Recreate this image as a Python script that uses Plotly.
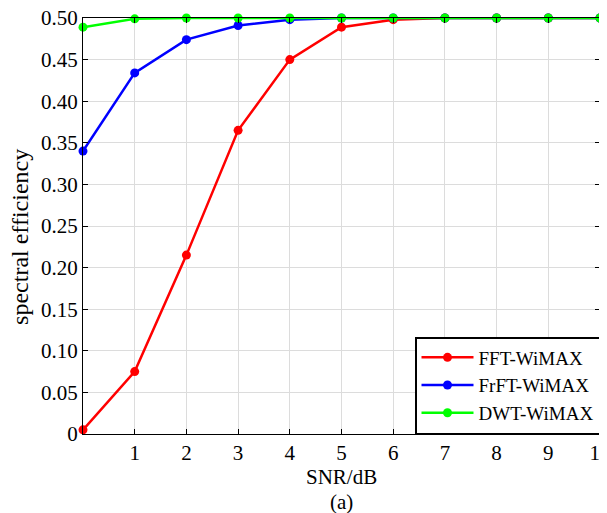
import plotly.graph_objects as go

snr = [0, 1, 2, 3, 4, 5, 6, 7, 8, 9, 10]
fft_wimax = [0.005, 0.075, 0.215, 0.365, 0.450, 0.489, 0.498, 0.500, 0.500, 0.500, 0.500]
frft_wimax = [0.340, 0.434, 0.474, 0.491, 0.498, 0.500, 0.500, 0.500, 0.500, 0.500, 0.500]
dwt_wimax = [0.489, 0.499, 0.500, 0.500, 0.500, 0.500, 0.500, 0.500, 0.500, 0.500, 0.500]

x_ticks = [1, 2, 3, 4, 5, 6, 7, 8, 9, 10]
y_ticks = [0, 0.05, 0.10, 0.15, 0.20, 0.25, 0.30, 0.35, 0.40, 0.45, 0.50]
y_tick_labels = ["0", "0.05", "0.10", "0.15", "0.20", "0.25", "0.30", "0.35", "0.40", "0.45", "0.50"]

font = "Liberation Serif"
fs = 21

fig = go.Figure()
for name, vals, col in [("FFT-WiMAX", fft_wimax, "#ff0000"),
                        ("FrFT-WiMAX", frft_wimax, "#0000ff"),
                        ("DWT-WiMAX", dwt_wimax, "#00ff00")]:
    fig.add_trace(go.Scatter(x=snr, y=vals, name=name, mode="lines+markers",
                             line=dict(color=col, width=2.5),
                             marker=dict(color=col, size=9, symbol="circle"),
                             cliponaxis=False))

axis_common = dict(showline=True, linecolor="black", linewidth=1, mirror="ticks",
                   ticks="inside", ticklen=5, tickcolor="black",
                   showgrid=True, gridcolor="#dcdcdc", gridwidth=1, zeroline=False,
                   automargin=False, ticklabeloverflow="allow",
                   tickfont=dict(family=font, size=fs, color="black"))

fig.update_layout(
    width=599, height=505,
    margin=dict(l=75, r=7, t=10, b=79),
    paper_bgcolor="white", plot_bgcolor="white",
    font=dict(family=font, color="black"),
    showlegend=True,
    legend=dict(x=1, y=0, xanchor="right", yanchor="bottom",
                bordercolor="black", borderwidth=1.5, bgcolor="white",
                font=dict(family=font, size=19, color="black"),
                tracegroupgap=0, itemwidth=52),
    xaxis=dict(range=[0, 10], tickvals=x_ticks, ticklabelstandoff=0, **axis_common),
    yaxis=dict(range=[0, 0.5], tickvals=y_ticks, ticktext=y_tick_labels, ticklabelstandoff=0,
               **axis_common),
    annotations=[
        dict(text="SNR/dB", x=0.5, y=-0.1034, xref="paper", yref="paper",
             showarrow=False, xanchor="center", yanchor="middle",
             font=dict(family=font, size=fs, color="black")),
        dict(text="(a)", x=0.5, y=-0.163, xref="paper", yref="paper",
             showarrow=False, xanchor="center", yanchor="middle",
             font=dict(family=font, size=fs, color="black")),
        dict(text="spectral efficiency", x=-0.122, y=0.4736, xref="paper", yref="paper",
             showarrow=False, xanchor="center", yanchor="middle", textangle=-90,
             font=dict(family=font, size=24, color="black")),
    ],
)

fig.write_html("out.html")
